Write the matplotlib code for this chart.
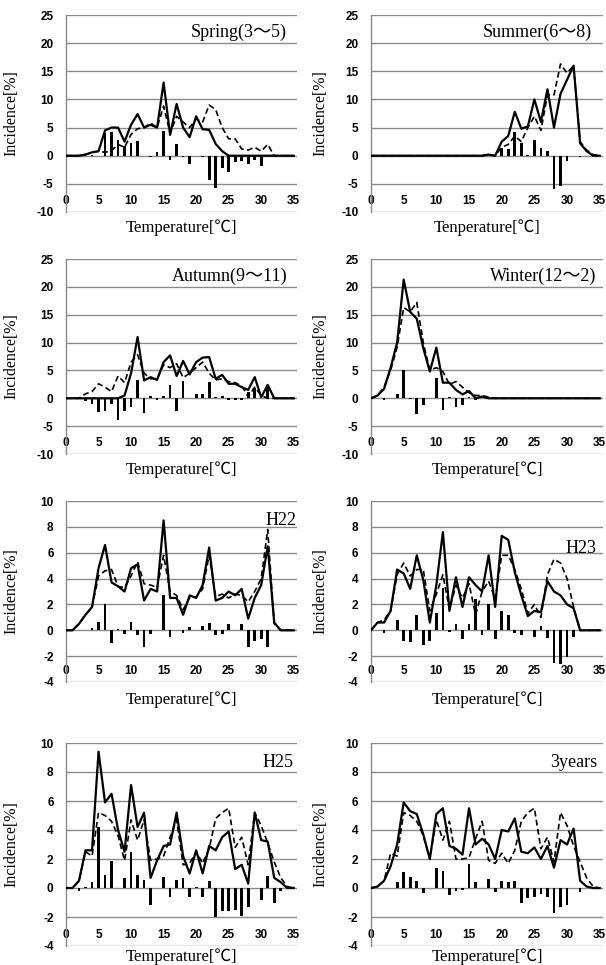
#!/usr/bin/env python3
# -*- coding: utf-8 -*-
"""
季節別・年別の気温と発生率（実測=実線, 推定=破線, 差=棒）。
出力: out.png
"""

import matplotlib as mpl
mpl.use("Agg")
import matplotlib.pyplot as plt
import numpy as np

TEMPS = list(range(36))

SPRING_SOLID = [0, 0, 0, 0.2, 0.6, 0.8, 4.5, 5, 5, 2.5, 5.5, 7.4, 5, 5.5, 5, 13, 3.7, 9.2,
                5, 3.3, 7, 4.7, 4.6, 2.1, 0.8, 0, 0, 0, 0, 0, 0, 0, 0, 0, 0, 0]
SPRING_DASHED = [0, 0, 0, 0.2, 0.6, 0.8, 0.6, 0.9, 2.0, 1.5, 3.8, 4.8, 5, 5.8, 5, 8.8, 4, 7,
                 6, 5, 6.5, 6, 9, 8.2, 5, 3, 3, 1.2, 1, 1.5, 0.8, 2, 0, 0, 0, 0]
SPRING_DIFF = [0, 0, 0, 0, 0.2, 0, 4, 4.2, 2.8, 1.7, 2.3, 2.6, 0, -0.3, 0.6, 4.4, -0.8, 2,
               -0.3, -1.5, 0, -0.3, -4.4, -5.8, -2.2, -2.9, -1.2, -1, -1.4, -0.7, -1.8, 0, 0, 0, 0, 0]

SUMMER_SOLID = [0] * 18 + [0.2, 0, 2.5, 3.5, 7.8, 4.8, 5.2, 10, 6, 11.8, 5, 11, 13.5, 16,
                           2.2, 0.8, 0, 0]
SUMMER_DASHED = [0] * 18 + [0.2, 0, 1.5, 2, 3.5, 2.5, 5, 7, 4.5, 10.8, 10.8, 16.3, 14.7, 16,
                            2.5, 1, 0.2, 0]
SUMMER_DIFF = [0] * 18 + [0, 0, 1.3, 1.2, 4.2, 2.3, 0.2, 2.8, 1.4, 0.9, -6, -5.4, -1, 0,
                          -0.3, 0, 0, 0]

AUTUMN_SOLID = [0, 0, 0, 0, 0, 0, 0, 0, 0, 0.5, 4.5, 11, 3.2, 3.8, 3.3, 6.5, 7.7, 4, 6.7,
                4.3, 6.5, 7.3, 7.4, 3.5, 4.2, 2.6, 2.6, 2, 1.5, 3.8, 0.2, 2.4, 0, 0, 0, 0]
AUTUMN_DASHED = [0, 0, 0, 0.8, 1.2, 2.6, 2, 1.2, 4, 2.8, 6.5, 7.8, 4.5, 3.5, 3.5, 6, 5.5,
                 6.2, 3.7, 4.5, 5.5, 6.5, 4.5, 3.3, 3.5, 3, 2.8, 2.2, 0.3, 2, 0.5, 0, 0, 0, 0, 0]
AUTUMN_DIFF = [0, 0, 0, -0.5, -1, -2.5, -2.2, -1.1, -3.9, -2.2, -1.6, 3.2, -2.6, 0.5, -0.3,
               0.4, 2.3, -2.3, 3.1, 0, 0.7, 0.8, 3, 0.2, 0.4, -0.3, -0.3, -0.3, 1.2, 1.8, 0,
               2.4, 0, 0, 0, 0]

WINTER_SOLID = [0, 0.5, 1.7, 5.5, 10, 21.3, 15.5, 14.3, 9, 4.8, 9.1, 2.8, 2.8, 1.5, 0.7,
                1.3, 0, 0.3] + [0] * 18
WINTER_DASHED = [0, 0.5, 2, 5, 9.2, 16.3, 15.5, 17.2, 10, 5, 5.5, 4.8, 2.5, 3, 2, 1, 0.5,
                 0.5, 0.2] + [0] * 17
WINTER_DIFF = [0, 0, -0.3, 0, 0.8, 5, -0.2, -2.8, -1.2, 0, 3.6, -2.1, 0.3, -1.6, -1.2, 0.3,
               -0.3] + [0] * 19

H22_SOLID = [0, 0, 0.5, 1.2, 1.8, 4.8, 6.6, 3.7, 3.4, 3, 4.8, 5.1, 2.3, 3.2, 3, 8.5, 2.5,
             2.5, 1.2, 2.7, 2.5, 3.5, 6.4, 2.3, 2.5, 3, 2.7, 3.2, 0.9, 2.5, 3.5, 6.5, 0.6, 0, 0, 0]
H22_DASHED = [0, 0, 0.5, 1.2, 1.8, 4.2, 4.6, 4.7, 3.4, 3.3, 4.2, 5.3, 3.6, 3.5, 3.3, 5.8, 3,
              2.7, 1.6, 2.5, 2.6, 3.2, 5.8, 2.6, 2.8, 2.5, 2.8, 2.7, 2.2, 3, 4, 7.8, 0.5, 0, 0, 0]
H22_DIFF = [0, 0, 0, 0, 0.15, 0.65, 2, -1, 0.1, -0.3, 0.65, -0.4, -1.3, -0.3, 0, 2.7, -0.5,
            0, -0.2, 0.25, 0, 0.35, 0.6, -0.4, -0.3, 0.5, 0, 0.45, -1.3, -0.8, -0.7, -1.3,
            0, 0, 0, 0]

H23_SOLID = [0, 0.6, 0.6, 1.5, 4.7, 4.4, 3.2, 5.8, 3.9, 0.6, 3.5, 7.6, 1.5, 4.1, 1.8, 4.1,
             3.5, 3, 5.8, 1.8, 7.3, 7, 4.5, 2.7, 1.1, 1.5, 1.4, 3.8, 3, 2.7, 2, 1.7, 0, 0, 0, 0]
H23_DASHED = [0, 0.6, 0.8, 1.5, 4.3, 5.2, 4.2, 4.7, 4.7, 1.5, 2.8, 4.3, 1.6, 3.5, 2.5, 3.6,
              1.2, 3, 3.8, 2.4, 5.8, 5.8, 4.7, 3.2, 1.3, 2, 1, 4.3, 5.5, 5.2, 4, 1.8, 0, 0, 0, 0]
H23_DIFF = [0, 0, -0.2, 0, 0.8, -0.8, -0.9, 1.15, -1.1, -0.8, 1.3, 3.3, -0.15, 0.5, -0.7,
            0.5, 2.4, -0.4, 2, -0.7, 1.5, 1.2, -0.2, -0.4, 0, -0.5, 0.3, -0.6, -2.5, -2.6,
            -2.1, -0.5, 0, 0, 0, 0]

H25_SOLID = [0, 0, 0.5, 2.6, 2.6, 9.4, 5.9, 6.5, 4, 2.5, 7.1, 4.2, 5.2, 0.7, 1.9, 2.9, 3,
             5.2, 2.2, 1, 2.6, 1, 2.9, 2.6, 3.5, 3.9, 1.3, 1.6, 0.3, 5.2, 3.3, 3.2, 0.7, 0.4, 0, 0]
H25_DASHED = [0, 0, 0.5, 2.5, 2.2, 5.2, 5, 4.6, 3.6, 1.9, 4.7, 3.3, 4.7, 1.9, 2, 2.2, 3.5,
              4.7, 1.6, 1.7, 2.5, 1.7, 2.7, 4.8, 5.2, 5.5, 2.8, 3.5, 1.6, 5.2, 4.3, 3.1, 1.8,
              0.7, 0.1, 0]
H25_DIFF = [0, 0, -0.2, 0.1, 0.4, 4.2, 0.9, 1.85, 0, 0.7, 2.5, 0.9, 0.55, -1.2, 0, 0.75,
            -0.6, 0.55, 0.7, -0.6, 0.1, -0.6, 0.45, -2, -1.6, -1.6, -1.5, -1.9, -1.3, 0, -0.8,
            0.8, -1, -0.2, 0, 0]

Y3_SOLID = [0, 0.1, 0.5, 1.5, 3, 5.9, 5.3, 5.1, 3.7, 2, 5.1, 5.5, 2.9, 2.7, 2.3, 5.5, 3, 3.4,
            3, 2, 4, 3.9, 4.8, 2.5, 2.4, 2.8, 2, 2.9, 1.4, 3.3, 3, 4.1, 0.5, 0.1, 0, 0]
Y3_DASHED = [0, 0.1, 0.5, 2.4, 2.2, 5.2, 5, 4.6, 3.6, 2, 4.7, 3.3, 4.6, 2, 2, 2.1, 3.4, 4.6,
             1.9, 1.7, 2.4, 1.7, 2.6, 4.6, 5.2, 5.5, 2.7, 3.5, 1.8, 5.2, 4.3, 2.9, 1.8, 0.7,
             0.1, 0]
Y3_DIFF = [0, 0, 0, 0, 0.4, 1.1, 0.75, 0.45, -0.35, 0, 1.4, 1.2, -0.45, -0.2, -0.15, 1.65,
           0.4, 0, 0.65, -0.3, 0.45, 0.4, 0.45, -1, -0.7, -0.6, -0.4, -0.6, -1.7, -1.3, -1.2,
           0, -0.3, 0, 0, 0]

TITLES = ["Spring(3～5)", "Summer(6～8)", "Autumn(9～11)", "Winter(12～2)",
          "H22", "H23", "H25", "3years"]
XLABELS = ["Temperature[℃]", "Tenperature[℃]"] + ["Temperature[℃]"] * 6
YLABEL = "Incidence[%]"
X_TICKS = [0, 5, 10, 15, 20, 25, 30, 35]
Y_TICKS_SEASON = [-10, -5, 0, 5, 10, 15, 20, 25]
Y_TICKS_YEAR = [-4, -2, 0, 2, 4, 6, 8, 10]

SERIES = [
    (SPRING_SOLID, SPRING_DASHED, SPRING_DIFF),
    (SUMMER_SOLID, SUMMER_DASHED, SUMMER_DIFF),
    (AUTUMN_SOLID, AUTUMN_DASHED, AUTUMN_DIFF),
    (WINTER_SOLID, WINTER_DASHED, WINTER_DIFF),
    (H22_SOLID, H22_DASHED, H22_DIFF),
    (H23_SOLID, H23_DASHED, H23_DIFF),
    (H25_SOLID, H25_DASHED, H25_DIFF),
    (Y3_SOLID, Y3_DASHED, Y3_DIFF),
]

W, H = 606, 965
COLS = [(66, 297), (371, 603)]
ROWS = [(15, 212), (259, 454), (501, 682), (743, 946)]
# タイトル位置 (axes 座標, 右端, 中心)
TITLE_POS = [(0.957, 0.91), (0.95, 0.91), (0.957, 0.913), (0.97, 0.91),
             (1.0, 0.895), (0.97, 0.74), (0.987, 0.906), (0.975, 0.906)]
XLABEL_Y = [-0.081, -0.081, -0.082, -0.082, -0.10, -0.10, -0.054, -0.054]

SERIF = ["Liberation Serif", "Noto Sans CJK JP", "DejaVu Serif"]
GRID = "#8a8a8a"


def main():
    mpl.rcParams.update({
        "font.family": ["Liberation Sans", "DejaVu Sans"],
        "axes.unicode_minus": False,
    })
    fig = plt.figure(figsize=(W / 100, H / 100), dpi=100)
    x = np.array(TEMPS)

    for i, (solid, dashed, diff) in enumerate(SERIES):
        r, c = divmod(i, 2)
        x0, x1 = COLS[c]
        top, bot = ROWS[r]
        ax = fig.add_axes([x0 / W, 1 - bot / H, (x1 - x0) / W, (bot - top) / H])

        ax.bar(x, diff, width=0.42, color="black", zorder=2)
        ax.plot(x, solid, color="black", lw=1.6, zorder=3)
        ax.plot(x, dashed, color="black", lw=1.2, dashes=(3.5, 2), zorder=3)

        yt = Y_TICKS_SEASON if r < 2 else Y_TICKS_YEAR
        ax.set_ylim(yt[0], yt[-1])
        ax.set_yticks(yt)
        ax.set_xlim(0, 35.5)
        ax.set_xticks(X_TICKS)
        ax.grid(True, axis="y", color=GRID, lw=1.0, zorder=0)
        ax.set_axisbelow(True)
        for s in ("top", "right", "bottom"):
            ax.spines[s].set_visible(False)
        ax.spines["left"].set_color(GRID)
        ax.spines["left"].set_linewidth(1.0)

        ax.tick_params(axis="y", length=0, pad=9, labelsize=8.5)
        ax.tick_params(axis="x", length=0, pad=-8, labelsize=8.5)
        for lab in ax.get_yticklabels() + ax.get_xticklabels():
            lab.set_fontweight("bold")
        for lab in ax.get_xticklabels():
            lab.set_va("center")

        tx, ty = TITLE_POS[i]
        ax.text(tx, ty, TITLES[i], transform=ax.transAxes, ha="right", va="center",
                fontsize=13, family=SERIF)
        ax.set_xlabel(XLABELS[i], fontsize=12, family=SERIF)
        ax.xaxis.set_label_coords(0.5, XLABEL_Y[i])
        ax.xaxis.label.set_va("center")
        ax.set_ylabel(YLABEL, fontsize=11.5, family=SERIF)
        ax.yaxis.set_label_coords(-0.234 if c == 0 else -0.216, 0.5)
        ax.yaxis.label.set_va("center")

    fig.savefig("out.png", dpi=100)
    plt.close(fig)


if __name__ == "__main__":
    main()
